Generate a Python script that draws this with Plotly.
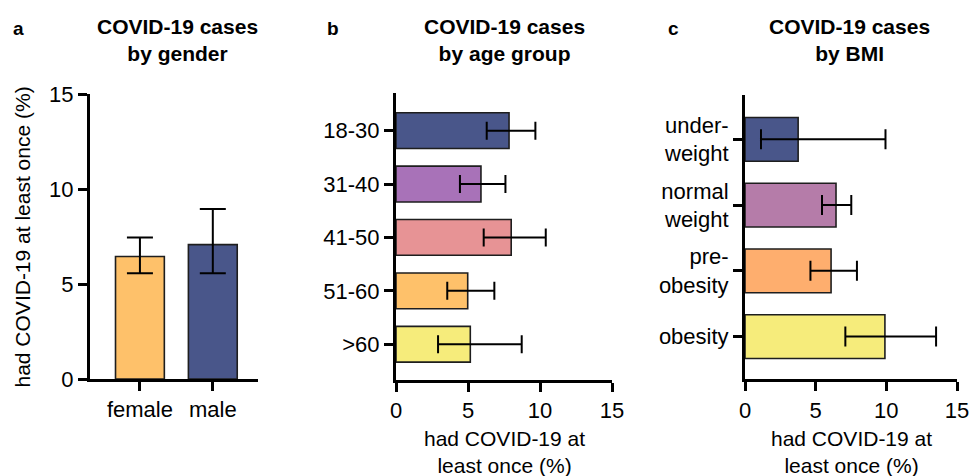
import plotly.graph_objects as go

# ---- data ----
gender = ["female", "male"]
gender_pct = [6.45, 7.07]
gender_lo = [5.57, 5.57]
gender_hi = [7.45, 8.95]
gender_colors = ["#fec16a", "#49568a"]

age = ["18-30", "31-40", "41-50", "51-60", ">60"]
age_pct = [7.85, 5.9, 8.0, 4.98, 5.16]
age_lo = [6.3, 4.44, 6.09, 3.56, 2.92]
age_hi = [9.68, 7.6, 10.4, 6.83, 8.73]
age_colors = ["#49568a", "#a872b8", "#e79395", "#fec16a", "#f6ec7b"]

bmi = ["under-<br>weight", "normal<br>weight", "pre-<br>obesity", "obesity"]
bmi_pct = [3.76, 6.44, 6.09, 9.9]
bmi_lo = [1.13, 5.45, 4.63, 7.1]
bmi_hi = [9.94, 7.52, 7.92, 13.52]
bmi_colors = ["#49568a", "#b57ca9", "#feae6e", "#f6ec7b"]

FONT = "Liberation Sans, Arial, sans-serif"
W, H = 969, 476
LINE = "#1e1e1e"

def err(vals, lo, hi, cap):
    return dict(type="data", symmetric=False,
                array=[h - v for v, h in zip(vals, hi)],
                arrayminus=[v - l for v, l in zip(vals, lo)],
                color="black", thickness=2, width=cap)

fig = go.Figure()
fig.add_trace(go.Bar(x=gender, y=gender_pct, width=0.67,
                     marker=dict(color=gender_colors, line=dict(color=LINE, width=1.6)),
                     error_y=err(gender_pct, gender_lo, gender_hi, 13),
                     xaxis="x", yaxis="y", showlegend=False))
fig.add_trace(go.Bar(y=age, x=age_pct, orientation="h", width=0.67,
                     marker=dict(color=age_colors, line=dict(color=LINE, width=1.6)),
                     error_x=err(age_pct, age_lo, age_hi, 9),
                     xaxis="x2", yaxis="y2", showlegend=False))
fig.add_trace(go.Bar(y=bmi, x=bmi_pct, orientation="h", width=0.665,
                     marker=dict(color=bmi_colors, line=dict(color=LINE, width=1.6)),
                     error_x=err(bmi_pct, bmi_lo, bmi_hi, 10),
                     xaxis="x3", yaxis="y3", showlegend=False))

axcommon = dict(showline=True, linecolor="black", linewidth=3, ticks="outside",
                ticklen=9, tickwidth=3, tickcolor="black", showgrid=False,
                zeroline=False, automargin=False, ticklabeloverflow="allow",
                tickfont=dict(size=22, color="black", family=FONT))

def px_x(p):
    return p / W

def px_y(p):
    return 1 - p / H

fig.update_layout(
    width=W, height=H, margin=dict(l=0, r=0, t=0, b=0, autoexpand=False),
    plot_bgcolor="white", paper_bgcolor="white",
    font=dict(family=FONT, color="black"),
    xaxis=dict(domain=[px_x(90), px_x(258)], range=[-0.685, 1.62], anchor="y", **axcommon),
    yaxis=dict(domain=[px_y(379), px_y(94)], range=[0, 15], tickvals=[0, 5, 10, 15], anchor="x", **axcommon),
    xaxis2=dict(domain=[px_x(396), px_x(612)], range=[0, 15], tickvals=[0, 5, 10, 15], anchor="y2", **axcommon),
    yaxis2=dict(domain=[px_y(380), px_y(93)], range=[4.67, -0.705], anchor="x2", **axcommon),
    xaxis3=dict(domain=[px_x(745), px_x(957)], range=[0, 15], tickvals=[0, 5, 10, 15], anchor="y3", **axcommon),
    yaxis3=dict(domain=[px_y(379.3), px_y(95)], range=[3.65, -0.675], anchor="x3", **axcommon),
)

ann = []
titles = [("COVID-19 cases<br>by gender", 177), ("COVID-19 cases<br>by age group", 504),
          ("COVID-19 cases<br>by BMI", 849)]
for t, x in titles:
    ann.append(dict(text="<b>" + t + "</b>", x=px_x(x), y=px_y(40), xref="paper", yref="paper",
                    xanchor="center", yanchor="middle", showarrow=False,
                    font=dict(size=21, family=FONT, color="black")))
for letter, x in [("a", 18), ("b", 333), ("c", 673)]:
    ann.append(dict(text="<b>" + letter + "</b>", x=px_x(x), y=px_y(28), xref="paper", yref="paper",
                    xanchor="center", yanchor="middle", showarrow=False,
                    font=dict(size=19, family=FONT, color="black")))
ann.append(dict(text="had COVID-19 at least once (%)", textangle=-90, x=px_x(22), y=px_y(237.5),
                xref="paper", yref="paper", xanchor="center", yanchor="middle", showarrow=False,
                font=dict(size=21, family=FONT, color="black")))
for x in [504, 851]:
    ann.append(dict(text="had COVID-19 at<br>least once (%)", x=px_x(x), y=px_y(452),
                    xref="paper", yref="paper", xanchor="center", yanchor="middle", showarrow=False,
                    font=dict(size=21, family=FONT, color="black")))
fig.update_layout(annotations=ann)

fig.write_html("out.html", config={"displayModeBar": False},
               post_script="document.body.style.margin='0px';document.body.style.overflow='hidden';")
